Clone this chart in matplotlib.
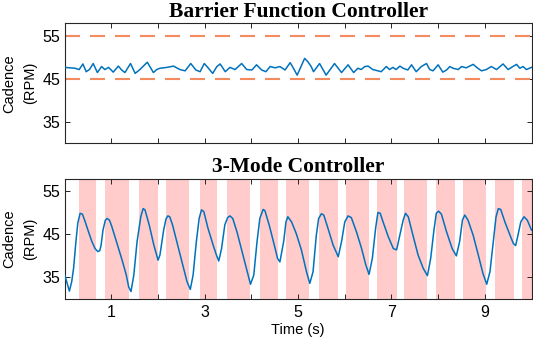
import matplotlib
matplotlib.use("Agg")
import matplotlib.pyplot as plt

plt.rcParams['font.family'] = ['Liberation Sans', 'DejaVu Sans']

# ---- data ----
top_title = "Barrier Function Controller"
bottom_title = "3-Mode Controller"
ylabel = "Cadence\n(RPM)"
xlabel = "Time (s)"

lower_bound = 45
upper_bound = 55

top_t = [0.00, 0.11, 0.22, 0.31, 0.39, 0.46, 0.53, 0.61, 0.70, 0.79, 0.86, 0.94,
         1.04, 1.15, 1.22, 1.29, 1.41, 1.51, 1.61, 1.77, 1.90, 1.97, 2.04, 2.19,
         2.33, 2.47, 2.58, 2.70, 2.81, 2.90, 2.99, 3.08, 3.17, 3.26, 3.33, 3.44,
         3.54, 3.65, 3.79, 3.90, 4.01, 4.11, 4.22, 4.31, 4.40, 4.51, 4.61, 4.72,
         4.83, 4.90, 4.98, 5.14, 5.21, 5.28, 5.33, 5.46, 5.60, 5.78, 5.93, 6.07,
         6.19, 6.28, 6.35, 6.43, 6.50, 6.60, 6.71, 6.78, 6.89, 6.96, 7.03, 7.10,
         7.18, 7.25, 7.35, 7.43, 7.53, 7.64, 7.75, 7.82, 7.89, 8.00, 8.10, 8.18,
         8.25, 8.32, 8.43, 8.50, 8.60, 8.75, 8.85, 8.93, 9.03, 9.14, 9.25, 9.39,
         9.50, 9.60, 9.68, 9.75, 9.82, 9.89, 10.00]
top_v = [47.7, 47.6, 47.5, 47.2, 48.5, 46.7, 47.2, 48.6, 46.5, 47.9, 47.2, 47.7,
         46.6, 48.0, 47.1, 46.5, 48.6, 46.3, 47.2, 48.9, 46.5, 47.2, 47.5, 47.7,
         48.0, 47.2, 46.9, 48.6, 47.1, 46.7, 48.6, 47.5, 46.3, 47.9, 48.5, 46.7,
         47.7, 47.2, 48.6, 47.2, 47.1, 48.3, 47.1, 46.7, 47.9, 47.6, 47.9, 47.1,
         48.8, 47.5, 45.9, 49.8, 49.0, 47.9, 46.7, 48.6, 45.9, 48.6, 46.5, 48.3,
         46.5, 47.5, 47.2, 47.9, 48.0, 47.2, 46.9, 46.7, 47.9, 47.2, 47.7, 47.2,
         48.0, 47.5, 47.1, 48.3, 46.7, 47.9, 48.6, 47.2, 46.9, 48.3, 46.6, 47.1,
         47.9, 47.5, 47.2, 47.9, 47.6, 48.4, 47.5, 46.9, 47.2, 47.9, 47.2, 48.5,
         47.2, 47.9, 48.4, 47.5, 47.9, 47.2, 47.7]

bot_t = [0.00, 0.04, 0.10, 0.15, 0.19, 0.24, 0.28, 0.33, 0.38, 0.44, 0.51, 0.58,
         0.65, 0.71, 0.75, 0.78, 0.82, 0.87, 0.91, 0.96, 1.01, 1.12, 1.23, 1.32,
         1.37, 1.42, 1.48, 1.55, 1.63, 1.68, 1.72, 1.81, 1.91, 2.00, 2.04, 2.12,
         2.17, 2.21, 2.25, 2.31, 2.42, 2.53, 2.62, 2.69, 2.75, 2.82, 2.88, 2.93,
         2.98, 3.07, 3.18, 3.25, 3.30, 3.36, 3.43, 3.49, 3.54, 3.60, 3.69, 3.80,
         3.91, 3.98, 4.05, 4.12, 4.18, 4.25, 4.29, 4.38, 4.49, 4.56, 4.61, 4.69,
         4.74, 4.78, 4.86, 4.96, 5.07, 5.18, 5.25, 5.32, 5.39, 5.44, 5.50, 5.55,
         5.64, 5.75, 5.86, 5.93, 6.00, 6.07, 6.14, 6.25, 6.36, 6.45, 6.52, 6.59,
         6.66, 6.71, 6.76, 6.82, 6.93, 7.04, 7.11, 7.18, 7.25, 7.30, 7.36, 7.46,
         7.57, 7.68, 7.77, 7.84, 7.91, 7.96, 8.01, 8.07, 8.18, 8.30, 8.39, 8.46,
         8.52, 8.57, 8.64, 8.75, 8.86, 8.96, 9.04, 9.11, 9.18, 9.24, 9.29, 9.34,
         9.43, 9.54, 9.61, 9.66, 9.71, 9.77, 9.84, 9.91, 10.00]
bot_v = [35.5, 34.1, 31.8, 34.0, 37.1, 43.3, 47.6, 49.9, 49.7, 47.9, 45.6, 43.4,
         41.7, 41.0, 41.2, 42.5, 46.0, 48.3, 48.7, 48.3, 46.8, 42.9, 39.0, 35.5,
         32.8, 31.7, 35.5, 43.3, 49.1, 51.0, 50.7, 47.2, 42.5, 39.0, 40.2, 46.0,
         48.6, 49.3, 49.1, 47.2, 42.5, 37.9, 34.0, 32.2, 35.5, 43.3, 48.7, 50.7,
         50.3, 46.4, 42.5, 40.2, 38.8, 41.7, 47.2, 48.9, 49.3, 48.7, 45.6, 41.0,
         36.3, 33.4, 35.5, 43.3, 48.7, 50.8, 50.5, 47.2, 42.5, 39.4, 38.6, 43.3,
         47.9, 49.1, 47.9, 45.2, 41.4, 36.3, 33.6, 36.3, 44.8, 48.7, 49.8, 49.5,
         46.4, 42.5, 39.8, 43.3, 47.9, 49.3, 48.9, 45.6, 41.7, 37.9, 35.7, 39.4,
         46.4, 50.1, 49.9, 47.9, 44.5, 41.7, 41.4, 44.8, 48.3, 49.9, 49.1, 44.8,
         40.2, 37.1, 35.4, 39.4, 46.0, 49.9, 50.4, 49.7, 45.6, 41.7, 40.0, 43.3,
         48.3, 49.5, 48.3, 44.8, 40.2, 35.9, 33.4, 36.3, 43.3, 49.1, 51.0, 50.8,
         47.9, 44.8, 42.9, 42.4, 44.8, 47.9, 49.1, 48.3, 46.0]

mode_start = [0.30, 0.87, 1.60, 2.17, 2.89, 3.47, 4.18, 4.75, 5.45, 6.03, 6.68,
              7.27, 7.95, 8.53, 9.22, 9.80]
mode_end = [0.68, 1.37, 2.00, 2.67, 3.27, 3.96, 4.57, 5.24, 5.85, 6.51, 7.11,
            7.77, 8.37, 9.03, 9.63, 10.00]

y_ticks = [35, 45, 55]
x_ticks = [1, 2, 3, 4, 5, 6, 7, 8, 9]
x_ticklabels = ['1', '', '3', '', '5', '', '7', '', '9']

# ---- style ----
BLUE = '#0072BD'
ORANGE = '#F38B5E'
PINK = '#FFCBCB'
AX = '#262626'

fig = plt.figure(figsize=(5.33, 3.40), dpi=100)
ax1 = fig.add_axes([0.1214, 0.578, 0.8758, 0.354])
ax2 = fig.add_axes([0.1214, 0.121, 0.8758, 0.354])


def style(ax, title):
    ax.set_xlim(0, 10)
    ax.set_ylim(30, 58)
    ax.set_yticks(y_ticks)
    ax.set_xticks(x_ticks)
    ax.tick_params(direction='in', length=3.5, width=0.7, top=True, right=True,
                   labelsize=11.5, colors='black', pad=3)
    ax.tick_params(axis='both', color=AX)
    for s in ax.spines.values():
        s.set_color(AX)
        s.set_linewidth(0.8)
    ax.set_title(title, fontfamily='Liberation Serif', fontweight='bold',
                 fontsize=15.5, pad=4.5)
    ax.set_ylabel(ylabel, fontsize=10.5, linespacing=1.55)
    ax.yaxis.set_label_coords(-0.06, 0.5)


# top panel
ax1.plot(top_t, top_v, color=BLUE, lw=1.1, zorder=3)
ax1.axhline(upper_bound, color=ORANGE, lw=1.5, dashes=(7.2, 4.8), zorder=2)
ax1.axhline(lower_bound, color=ORANGE, lw=1.5, dashes=(7.2, 4.8), zorder=2)
style(ax1, top_title)
ax1.set_xticklabels([])

# bottom panel
for s, e in zip(mode_start, mode_end):
    ax2.axvspan(s, e, color=PINK, lw=0, zorder=1)
ax2.plot(bot_t, bot_v, color=BLUE, lw=1.1, zorder=3)
style(ax2, bottom_title)
ax2.set_xticklabels(x_ticklabels)
ax2.tick_params(axis='x', pad=4.5)
ax2.set_xlabel(xlabel, fontsize=10.5, labelpad=2)

fig.savefig('out.png', dpi=100)
